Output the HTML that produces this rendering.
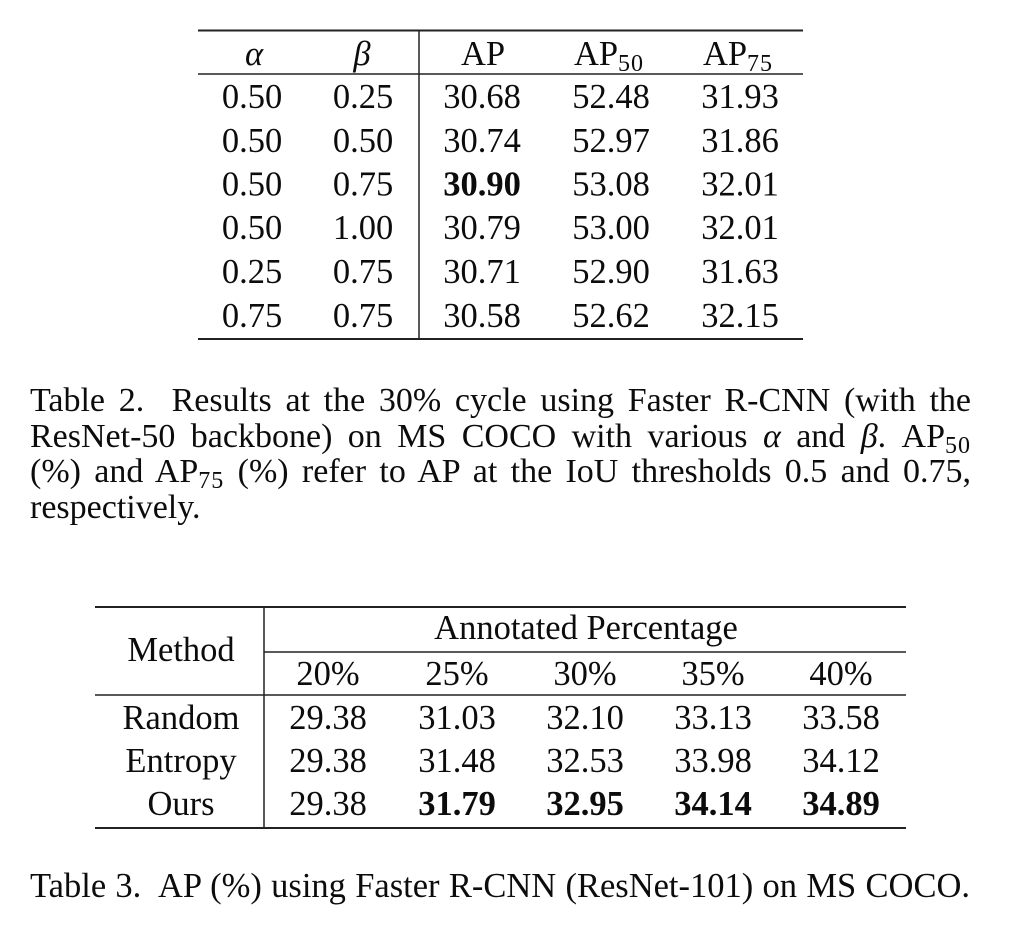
<!DOCTYPE html>
<html>
<head>
<meta charset="utf-8">
<style>
  html, body { margin:0; padding:0; background:#fff; }
  body { width:1024px; height:939px; position:relative; overflow:hidden;
         font-family:"Liberation Serif", "Times New Roman", serif; color:#0c0c0c; }
  svg { position:absolute; left:0; top:0; }
  .cap { position:absolute; left:30px; width:941px; white-space:normal;
         font-size:34px; line-height:38px; height:38px;
         text-align:justify; text-align-last:justify; color:#0c0c0c; }
  .cap.last { text-align:left; text-align-last:left; }
  .sub { font-size:24px; position:relative; top:6px; letter-spacing:1px; }
  i { font-style:italic; }
</style>
</head>
<body>
<svg width="1024" height="939" viewBox="0 0 1024 939" xmlns="http://www.w3.org/2000/svg">
  <!-- Table 2 rules -->
  <line x1="198" y1="30.5" x2="803" y2="30.5" stroke="#222" stroke-width="2"/>
  <line x1="198" y1="74" x2="803" y2="74" stroke="#222" stroke-width="1.5"/>
  <line x1="198" y1="339" x2="803" y2="339" stroke="#222" stroke-width="2"/>
  <line x1="419" y1="30" x2="419" y2="339" stroke="#222" stroke-width="1.5"/>
  <!-- Table 3 rules -->
  <line x1="95" y1="607" x2="906" y2="607" stroke="#222" stroke-width="2"/>
  <line x1="264" y1="652" x2="906" y2="652" stroke="#222" stroke-width="1.5"/>
  <line x1="95" y1="695" x2="906" y2="695" stroke="#222" stroke-width="1.5"/>
  <line x1="95" y1="828" x2="906" y2="828" stroke="#222" stroke-width="2"/>
  <line x1="264" y1="607" x2="264" y2="828" stroke="#222" stroke-width="1.5"/>

  <g font-family="Liberation Serif, Times New Roman, serif" font-size="34.5" fill="#0c0c0c" text-anchor="middle">
    <g transform="translate(0,3)">
    <!-- Table 2 header -->
    <text x="254" y="62" font-style="italic">α</text>
    <text x="362" y="62" font-style="italic">β</text>
    <text x="483" y="62">AP</text>
    <text x="609" y="62">AP<tspan font-size="24" dy="6" letter-spacing="1">50</tspan></text>
    <text x="738" y="62">AP<tspan font-size="24" dy="6" letter-spacing="1">75</tspan></text>

    <!-- Table 2 rows -->
    <text x="252" y="105">0.50</text><text x="363" y="105">0.25</text><text x="482" y="105">30.68</text><text x="611" y="105">52.48</text><text x="740" y="105">31.93</text>
    <text x="252" y="149">0.50</text><text x="363" y="149">0.50</text><text x="482" y="149">30.74</text><text x="611" y="149">52.97</text><text x="740" y="149">31.86</text>
    <text x="252" y="192.5">0.50</text><text x="363" y="192.5">0.75</text><text x="482" y="192.5" font-weight="bold">30.90</text><text x="611" y="192.5">53.08</text><text x="740" y="192.5">32.01</text>
    <text x="252" y="236">0.50</text><text x="363" y="236">1.00</text><text x="482" y="236">30.79</text><text x="611" y="236">53.00</text><text x="740" y="236">32.01</text>
    <text x="252" y="280">0.25</text><text x="363" y="280">0.75</text><text x="482" y="280">30.71</text><text x="611" y="280">52.90</text><text x="740" y="280">31.63</text>
    <text x="252" y="324">0.75</text><text x="363" y="324">0.75</text><text x="482" y="324">30.58</text><text x="611" y="324">52.62</text><text x="740" y="324">32.15</text>

    <!-- Table 3 header -->
    <text x="181" y="658">Method</text>
    <text x="586" y="636">Annotated Percentage</text>
    <text x="328" y="682">20%</text>
    <text x="457" y="682">25%</text>
    <text x="585" y="682">30%</text>
    <text x="713" y="682">35%</text>
    <text x="841" y="682">40%</text>

    <!-- Table 3 rows -->
    <text x="181" y="726">Random</text><text x="328" y="726">29.38</text><text x="457" y="726">31.03</text><text x="585" y="726">32.10</text><text x="713" y="726">33.13</text><text x="841" y="726">33.58</text>
    <text x="181" y="769">Entropy</text><text x="328" y="769">29.38</text><text x="457" y="769">31.48</text><text x="585" y="769">32.53</text><text x="713" y="769">33.98</text><text x="841" y="769">34.12</text>
    <text x="181" y="812">Ours</text><text x="328" y="812">29.38</text>
    <g font-weight="bold"><text x="457" y="812">31.79</text><text x="585" y="812">32.95</text><text x="713" y="812">34.14</text><text x="841" y="812">34.89</text></g>
    </g>
  </g>
</svg>

<div class="cap" style="top:382px;">Table 2.&nbsp; Results at the 30% cycle using Faster R-CNN (with the</div>
<div class="cap" style="top:418px;">ResNet-50 backbone) on MS COCO with various <i>α</i> and <i>β</i>. AP<span class="sub">50</span></div>
<div class="cap" style="top:453px;">(%) and AP<span class="sub">75</span> (%) refer to AP at the IoU thresholds 0.5 and 0.75,</div>
<div class="cap last" style="top:489px;">respectively.</div>

<div class="cap" style="top:867px; font-size:34.5px; width:940px;">Table 3.&nbsp; AP (%) using Faster R-CNN (ResNet-101) on MS COCO.</div>
</body>
</html>
